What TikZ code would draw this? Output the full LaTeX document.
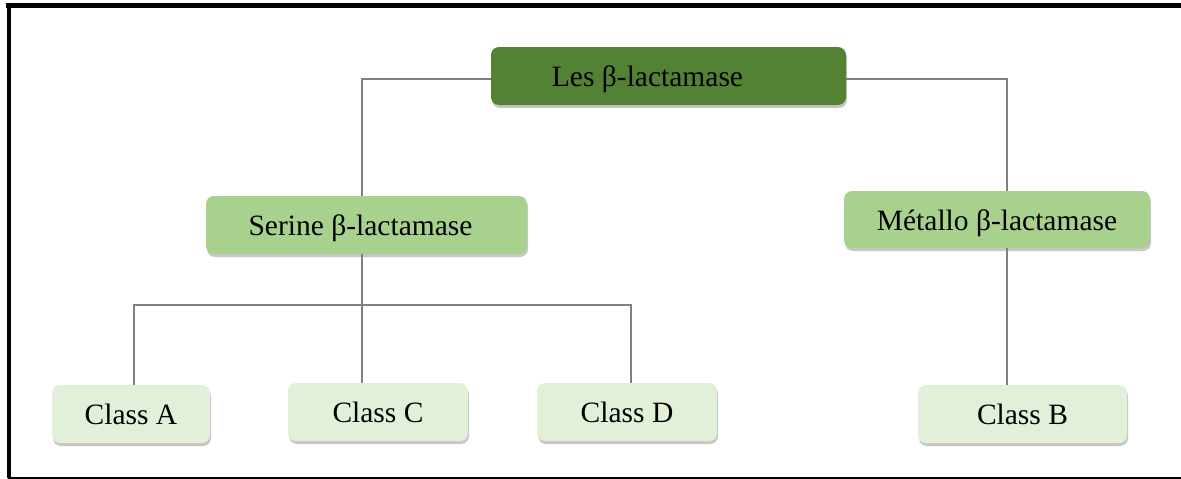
\documentclass[tikz,border=0pt]{standalone}
\usepackage{fontspec}
\setmainfont{Liberation Serif}
\usetikzlibrary{shadows}
\definecolor{topgreen}{HTML}{548235}
\definecolor{midgreen}{HTML}{A9D18E}
\definecolor{lowgreen}{HTML}{E2F0D9}
\definecolor{linkgray}{HTML}{808080}
\tikzset{
  box/.style={rounded corners=8pt, inner sep=0pt, text=black,
    font=\fontsize{29.5}{33}\selectfont, text height=25pt, text depth=4pt,
    drop shadow={shadow xshift=1pt, shadow yshift=-3pt, opacity=0.22, fill=black}},
  topbox/.style={box, fill=topgreen},
  midbox/.style={box, fill=midgreen},
  lowbox/.style={box, fill=lowgreen},
  link/.style={draw=linkgray, line width=1.1pt},
  frame/.style={line width=#1, black}
}
\begin{document}
\begin{tikzpicture}[x=1pt,y=-1pt]
\useasboundingbox (0,0) rectangle (1181,479);
\fill[white] (0,0) rectangle (1181,479);
\draw[frame=5pt] (6,5.5) -- (1181,5.5);
\draw[frame=4pt] (9,3) -- (9,478);
\draw[frame=2pt] (8,478) -- (1181,478);

\coordinate (ly) at (0,79);
\coordinate (sx) at (362,0);
\coordinate (mx) at (1007,0);
\coordinate (j) at (362,305);
\coordinate (ax) at (134,0);
\coordinate (dx) at (631,0);

\node[topbox, minimum width=355pt, minimum height=58pt] (les) at (668.5,76) {Les β-lactamase\hspace*{42pt}};
\node[midbox, minimum width=321pt, minimum height=58pt] (ser) at (366.5,225) {Serine β-lactamase\hspace*{12pt}};
\node[midbox, minimum width=306pt, minimum height=57pt] (met) at (997,219.5) {Métallo β-lactamase};
\node[lowbox, minimum width=158pt, minimum height=58pt] (ca) at (131,414) {Class A};
\node[lowbox, minimum width=180pt, minimum height=58pt] (cc) at (378,412) {Class C};
\node[lowbox, minimum width=180pt, minimum height=58pt] (cd) at (627,412) {Class D};
\node[lowbox, minimum width=209pt, minimum height=58pt] (cb) at (1022.5,414) {Class B};

\draw[link] (les.west |- ly) -| (ser.north -| sx);
\draw[link] (les.east |- ly) -| (met.north -| mx);
\draw[link] (ser.south -| sx) -- (j);
\draw[link] (j) -| (ca.north -| ax);
\draw[link] (j) -- (cc.north -| sx);
\draw[link] (j) -| (cd.north -| dx);
\draw[link] (met.south -| mx) -- (cb.north -| mx);
\end{tikzpicture}
\end{document}
